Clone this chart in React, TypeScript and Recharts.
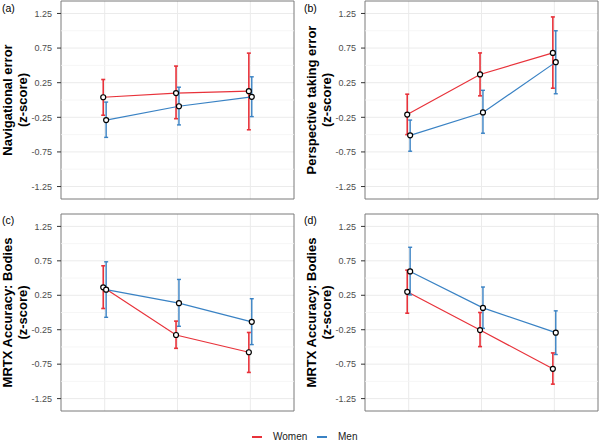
import React from "react";
import {
  ComposedChart,
  Line,
  Scatter,
  ErrorBar,
  XAxis,
  YAxis,
  CartesianGrid,
  ReferenceLine,
  ReferenceArea,
} from "recharts";

const WOMEN_COLOR = "#E8323A";
const MEN_COLOR = "#3982C4";
const FONT = "'Liberation Sans', Arial, sans-serif";

const Y_TICKS = [-1.25, -0.75, -0.25, 0.25, 0.75, 1.25];
const Y_MINOR = [-1, -0.5, 0, 0.5, 1];
const CONDITIONS = [1, 2, 3];

// (a) navigational error
const navWomenMean = [0.04, 0.1, 0.127];
const navWomenLow = [-0.22, -0.27, -0.43];
const navWomenHigh = [0.296, 0.49, 0.677];
const navMenMean = [-0.29, -0.09, 0.046];
const navMenLow = [-0.54, -0.36, -0.24];
const navMenHigh = [-0.03, 0.185, 0.335];

// (b) perspective taking error
const ptWomenMean = [-0.21, 0.369, 0.68];
const ptWomenLow = [-0.5, 0.06, 0.17];
const ptWomenHigh = [0.084, 0.68, 1.2];
const ptMenMean = [-0.51, -0.18, 0.547];
const ptMenLow = [-0.74, -0.48, 0.09];
const ptMenHigh = [-0.29, 0.14, 1.0];

// (c) MRTX accuracy
const mrtxCWomenMean = [0.365, -0.327, -0.577];
const mrtxCWomenLow = [0.058, -0.52, -0.87];
const mrtxCWomenHigh = [0.678, -0.125, -0.29];
const mrtxCMenMean = [0.332, 0.135, -0.135];
const mrtxCMenLow = [-0.07, -0.2, -0.466];
const mrtxCMenHigh = [0.736, 0.48, 0.2];

// (d) MRTX accuracy
const mrtxDWomenMean = [0.3, -0.255, -0.817];
const mrtxDWomenLow = [-0.01, -0.495, -1.04];
const mrtxDWomenHigh = [0.615, 0.0, -0.587];
const mrtxDMenMean = [0.596, 0.067, -0.293];
const mrtxDMenLow = [0.255, -0.23, -0.61];
const mrtxDMenHigh = [0.947, 0.37, 0.024];

const DODGE = 0.02;

function series(mean: number[], low: number[], high: number[], offset: number) {
  return mean.map((m, i) => ({
    x: CONDITIONS[i] + offset,
    y: m,
    err: [m - low[i], high[i] - m],
  }));
}

function AxisTitle({ viewBox, lines }: any) {
  const vb = viewBox || { x: 0, y: 1, width: 61, height: 198 };
  const px = vb.x + vb.width;
  const cy = vb.y + vb.height / 2;
  return (
    <g>
      {lines.map((t: string, i: number) => (
        <text
          key={t}
          transform={`translate(${px - 49 + i * 14.5}, ${cy}) rotate(-90)`}
          textAnchor="middle"
          fontWeight="bold"
          fontSize={13}
          fontFamily={FONT}
          fill="#000"
        >
          {t}
        </text>
      ))}
    </g>
  );
}

const Dot = (props: any) => (
  <circle cx={props.cx} cy={props.cy} r={2.5} fill="#fff" stroke="#000" strokeWidth={1.2} />
);

interface PanelProps {
  tag: string;
  title: string[];
  women: { x: number; y: number; err: number[] }[];
  men: { x: number; y: number; err: number[] }[];
  left: number;
  top: number;
  width: number;
  height: number;
  right: number;
}

function Panel({ tag, title, women, men, left, top, width, height, right }: PanelProps) {
  return (
    <div style={{ position: "absolute", left, top }}>
      <ComposedChart width={width} height={height} margin={{ top: 1, right, bottom: 1, left: 0 }}>
        <CartesianGrid
          horizontalValues={Y_TICKS}
          verticalValues={CONDITIONS}
          stroke="#ebebeb"
          strokeWidth={1}
        />
        {Y_MINOR.map((v) => (
          <ReferenceLine key={v} y={v} stroke="#f4f4f4" strokeWidth={0.8} />
        ))}
        <XAxis type="number" dataKey="x" domain={[0.4, 3.6]} hide allowDataOverflow />
        <YAxis
          type="number"
          domain={[-1.43, 1.43]}
          ticks={Y_TICKS}
          allowDataOverflow
          width={61}
          axisLine={false}
          tickSize={4}
          tickMargin={5}
          tickLine={{ stroke: "#333" }}
          tick={{ fill: "#4d4d4d", fontSize: 9, fontFamily: FONT }}
          tickFormatter={(v: number) => v.toFixed(2)}
          label={{ content: (p: any) => <AxisTitle viewBox={p.viewBox} lines={title} /> }}
        />
        <Line
          data={women}
          dataKey="y"
          stroke={WOMEN_COLOR}
          strokeWidth={1.2}
          dot={false}
          activeDot={false}
          isAnimationActive={false}
        >
          <ErrorBar dataKey="err" direction="y" width={2} stroke={WOMEN_COLOR} strokeWidth={1.6} />
        </Line>
        <Line
          data={men}
          dataKey="y"
          stroke={MEN_COLOR}
          strokeWidth={1.2}
          dot={false}
          activeDot={false}
          isAnimationActive={false}
        >
          <ErrorBar dataKey="err" direction="y" width={2} stroke={MEN_COLOR} strokeWidth={1.4} />
        </Line>
        <Scatter data={women} dataKey="y" shape={Dot} isAnimationActive={false} />
        <Scatter data={men} dataKey="y" shape={Dot} isAnimationActive={false} />
        <ReferenceArea
          x1={0.4}
          x2={3.6}
          y1={-1.43}
          y2={1.43}
          fill="none"
          stroke="#7a7a7a"
          strokeWidth={1}
          ifOverflow="visible"
        />
      </ComposedChart>
      <div
        style={{
          position: "absolute",
          left: 2 - (left > 0 ? 2 : 0),
          top: 3 - (top > 0 ? 1 : 0),
          fontFamily: FONT,
          fontSize: 10.5,
          lineHeight: "11px",
          color: "#000",
        }}
      >
        {tag}
      </div>
    </div>
  );
}

export default function App() {
  return (
    <div
      style={{
        position: "absolute",
        left: 0,
        top: 0,
        width: 600,
        height: 441,
        background: "#fff",
        fontFamily: FONT,
      }}
    >
      <Panel
        tag="(a)"
        title={["Navigational error", "(z-score)"]}
        women={series(navWomenMean, navWomenLow, navWomenHigh, -DODGE)}
        men={series(navMenMean, navMenLow, navMenHigh, DODGE)}
        left={0}
        top={0}
        width={300}
        height={200}
        right={6}
      />
      <Panel
        tag="(b)"
        title={["Perspective taking error", "(z-score)"]}
        women={series(ptWomenMean, ptWomenLow, ptWomenHigh, -DODGE)}
        men={series(ptMenMean, ptMenLow, ptMenHigh, DODGE)}
        left={304}
        top={0}
        width={296}
        height={200}
        right={2}
      />
      <Panel
        tag="(c)"
        title={["MRTX Accuracy: Bodies", "(z-score)"]}
        women={series(mrtxCWomenMean, mrtxCWomenLow, mrtxCWomenHigh, -DODGE)}
        men={series(mrtxCMenMean, mrtxCMenLow, mrtxCMenHigh, DODGE)}
        left={0}
        top={213}
        width={300}
        height={199}
        right={6}
      />
      <Panel
        tag="(d)"
        title={["MRTX Accuracy: Bodies", "(z-score)"]}
        women={series(mrtxDWomenMean, mrtxDWomenLow, mrtxDWomenHigh, -DODGE)}
        men={series(mrtxDMenMean, mrtxDMenLow, mrtxDMenHigh, DODGE)}
        left={304}
        top={213}
        width={296}
        height={199}
        right={2}
      />
      <div style={{ position: "absolute", left: 252, top: 436, width: 10, height: 1.5, background: WOMEN_COLOR }} />
      <div style={{ position: "absolute", left: 273, top: 431, fontSize: 10, lineHeight: "11px", color: "#1a1a1a" }}>
        Women
      </div>
      <div style={{ position: "absolute", left: 317, top: 436, width: 10, height: 1.5, background: MEN_COLOR }} />
      <div style={{ position: "absolute", left: 338, top: 431, fontSize: 10, lineHeight: "11px", color: "#1a1a1a" }}>
        Men
      </div>
    </div>
  );
}
